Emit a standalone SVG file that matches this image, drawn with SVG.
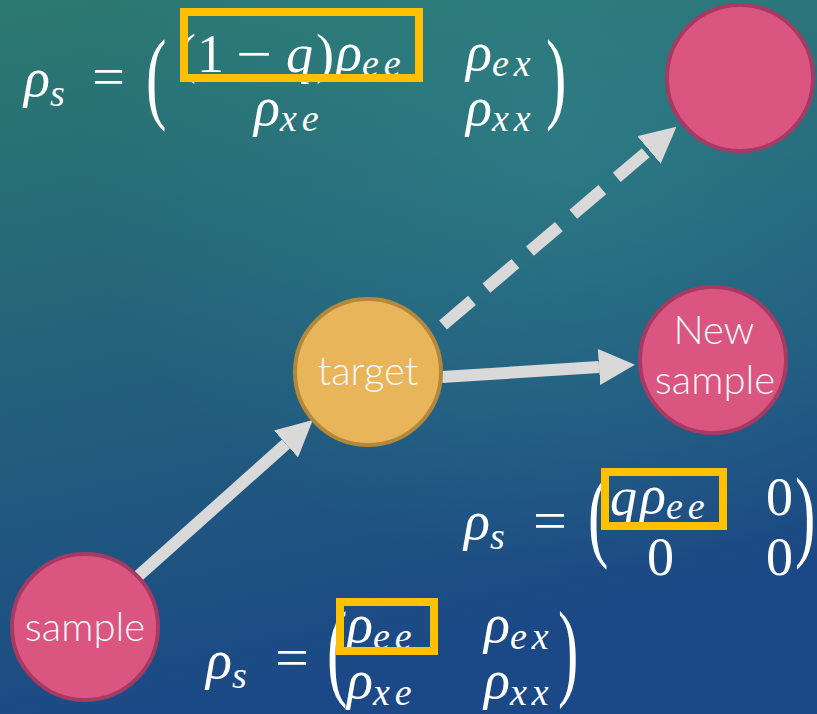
<svg xmlns="http://www.w3.org/2000/svg" width="817" height="714" viewBox="0 0 817 714">
<defs>
<linearGradient id="bg" x1="0" y1="0" x2="0.25" y2="1">
<stop offset="0" stop-color="#2c7a70"/>
<stop offset="0.45" stop-color="#24647a"/>
<stop offset="1" stop-color="#1b4886"/>
</linearGradient>
<radialGradient id="glow" cx="0.7" cy="0.2" r="0.6">
<stop offset="0" stop-color="#3a9a9a" stop-opacity="0.35"/>
<stop offset="1" stop-color="#3a9a9a" stop-opacity="0"/>
</radialGradient>
<marker id="head" markerUnits="userSpaceOnUse" markerWidth="36" markerHeight="36" viewBox="0 0 36 36" refX="0" refY="18" orient="auto">
<path d="M0,0 L36,18 L0,36 z" fill="#d9d9d9"/>
</marker>
<style>
.pink{fill:#da5580;stroke:#a63a62;stroke-width:4}
.gold{fill:#e8b55a;stroke:#b3883a;stroke-width:4}
.lbl{font-family:Lato,"Open Sans","Liberation Sans",sans-serif;font-weight:300;font-size:40px;fill:#f7f7f7;text-anchor:middle}
.m{font-family:"Liberation Serif",serif;font-style:italic;font-size:54px;fill:#ffffff}
.u{font-family:"Liberation Serif",serif;font-style:normal;font-size:54px;fill:#ffffff}
.sub{font-size:38px;letter-spacing:5px}
.par{font-family:"Liberation Serif",serif;font-size:102px;fill:#ffffff}
.box{fill:none;stroke:#ffc000;stroke-width:8}
.conn{stroke:#d9d9d9;stroke-width:12;fill:none;marker-end:url(#head)}
</style>
</defs>
<rect width="817" height="714" fill="url(#bg)"/>
<rect width="817" height="714" fill="url(#glow)"/>

<g id="connectors">
<line class="conn" x1="136" y1="578" x2="286" y2="444"/>
<line class="conn" x1="442" y1="377" x2="599" y2="367"/>
<line class="conn" x1="443" y1="325" x2="649" y2="150" stroke-dasharray="38 19"/>
</g>

<g id="node-top"><circle class="pink" cx="740" cy="78" r="73"/></g>
<g id="node-target"><circle class="gold" cx="368" cy="372" r="73"/><text class="lbl" x="368" y="385">target</text></g>
<g id="node-new"><circle class="pink" cx="713" cy="360" r="73"/><text class="lbl" x="714" y="344">New</text><text class="lbl" x="715" y="394">sample</text></g>
<g id="node-sample"><circle class="pink" cx="85" cy="627" r="73"/><text class="lbl" x="85" y="641">sample</text></g>

<g id="eq-top">
<text class="m" x="24" y="96">ρ<tspan class="sub" dy="10">s</tspan></text>
<text class="u" x="92" y="95" textLength="33" lengthAdjust="spacingAndGlyphs">=</text>
<text class="par" transform="translate(146,110) scale(0.6,1)">(</text>
<text class="u" x="178" y="72">(</text>
<text class="u" x="197" y="72">1</text>
<text class="u" x="236" y="72" textLength="36" lengthAdjust="spacingAndGlyphs">−</text>
<text class="m" x="286" y="72">q</text>
<text class="u" x="316" y="72">)</text>
<text class="m" x="336" y="70">ρ<tspan class="sub" dy="6">ee</tspan></text>
<text class="m" x="466" y="70">ρ<tspan class="sub" dy="6">ex</tspan></text>
<text class="m" x="254" y="125">ρ<tspan class="sub" dy="6">xe</tspan></text>
<text class="m" x="466" y="125">ρ<tspan class="sub" dy="6">xx</tspan></text>
<text class="par" transform="translate(546,110) scale(0.6,1)">)</text>
<rect class="box" x="184" y="12" width="235" height="66"/>
</g>

<g id="eq-mid">
<text class="m" x="464" y="539">ρ<tspan class="sub" dy="10">s</tspan></text>
<text class="u" x="533" y="539" textLength="34" lengthAdjust="spacingAndGlyphs">=</text>
<text class="par" transform="translate(588,548) scale(0.6,1)">(</text>
<text class="m" x="610" y="515">q</text>
<text class="m" x="640" y="513">ρ<tspan class="sub" dy="6">ee</tspan></text>
<text class="u" x="766" y="515">0</text>
<text class="u" x="647" y="575">0</text>
<text class="u" x="766" y="575">0</text>
<text class="par" transform="translate(795,548) scale(0.6,1)">)</text>
<rect class="box" x="605" y="472" width="118" height="54"/>
</g>

<g id="eq-bottom">
<text class="m" x="206" y="678">ρ<tspan class="sub" dy="10">s</tspan></text>
<text class="u" x="275" y="676" textLength="34" lengthAdjust="spacingAndGlyphs">=</text>
<text class="par" transform="translate(327,686) scale(0.6,1.05)">(</text>
<text class="m" x="347" y="642">ρ<tspan class="sub" dy="7">ee</tspan></text>
<text class="m" x="484" y="642">ρ<tspan class="sub" dy="7">ex</tspan></text>
<text class="m" x="347" y="698">ρ<tspan class="sub" dy="7">xe</tspan></text>
<text class="m" x="484" y="698">ρ<tspan class="sub" dy="7">xx</tspan></text>
<text class="par" transform="translate(558,686) scale(0.6,1.05)">)</text>
<rect class="box" x="340" y="602" width="94" height="49"/>
</g>
</svg>
